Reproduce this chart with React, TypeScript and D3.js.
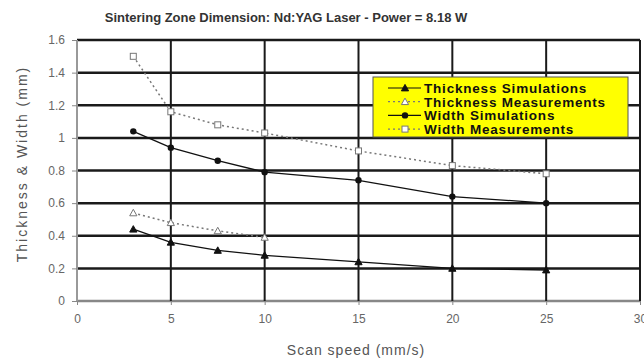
import { useRef, useEffect } from "react";
import * as d3 from "d3";

const speeds = [3, 5, 7.5, 10, 15, 20, 25];
const thicknessSim = [0.44, 0.36, 0.31, 0.28, 0.24, 0.2, 0.19];
const thicknessMeasSpeeds = [3, 5, 7.5, 10];
const thicknessMeas = [0.54, 0.48, 0.43, 0.39];
const widthSim = [1.04, 0.94, 0.86, 0.79, 0.74, 0.64, 0.6];
const widthMeas = [1.5, 1.16, 1.08, 1.03, 0.92, 0.83, 0.78];

const xTicks = [0, 5, 10, 15, 20, 25, 30];
const yTicks = [0, 0.2, 0.4, 0.6, 0.8, 1, 1.2, 1.4, 1.6];

interface Pt {
  x: number;
  y: number;
}

const toPts = (xs: number[], ys: number[]): Pt[] => xs.map((x, i) => ({ x, y: ys[i] }));

const series = [
  { name: "Thickness Simulations", data: toPts(speeds, thicknessSim), dash: null, marker: "triFilled", color: "#111" },
  { name: "Thickness Measurements", data: toPts(thicknessMeasSpeeds, thicknessMeas), dash: "2,3", marker: "triOpen", color: "#777" },
  { name: "Width Simulations", data: toPts(speeds, widthSim), dash: null, marker: "circle", color: "#111" },
  { name: "Width Measurements", data: toPts(speeds, widthMeas), dash: "2,3", marker: "square", color: "#777" },
];

const FONT = "Liberation Sans, Arial, sans-serif";

export default function App() {
  const svgRef = useRef<SVGSVGElement>(null);
  const width = 644;
  const height = 360;
  const margin = { top: 40, right: 4, bottom: 59, left: 77 };
  const innerW = width - margin.left - margin.right;
  const innerH = height - margin.top - margin.bottom;

  useEffect(() => {
    if (!svgRef.current) return;
    const svg = d3.select(svgRef.current);
    svg.selectAll("*").remove();

    const g = svg.append("g").attr("transform", `translate(${margin.left},${margin.top})`);

    const x = d3.scaleLinear().domain([0, 30]).range([0, innerW]);
    const y = d3.scaleLinear().domain([0, 1.6]).range([innerH, 0]);

    // Grid
    g.selectAll(".hgrid")
      .data(yTicks)
      .join("line")
      .attr("x1", 0)
      .attr("x2", innerW)
      .attr("y1", d => y(d))
      .attr("y2", d => y(d))
      .attr("stroke", (d, i) => (i === 0 ? "#888" : "#1a1a1a"))
      .attr("stroke-width", 2.5);

    g.selectAll(".vgrid")
      .data(xTicks)
      .join("line")
      .attr("x1", d => x(d))
      .attr("x2", d => x(d))
      .attr("y1", 0)
      .attr("y2", innerH)
      .attr("stroke", (d, i) => (i === 0 ? "#999" : "#1a1a1a"))
      .attr("stroke-width", 2);

    // Axes tick labels
    const xAxis = g.append("g")
      .attr("transform", `translate(0,${innerH})`)
      .call(d3.axisBottom(x).tickValues(xTicks).tickSize(4).tickFormat(d => `${d}`));
    xAxis.select(".domain").remove();
    xAxis.selectAll(".tick line").attr("stroke", "#888");
    xAxis.selectAll(".tick text")
      .attr("fill", "#666")
      .attr("font-size", "12px")
      .attr("font-family", FONT)
      .attr("y", 10)
      .attr("dy", "1em");

    const yAxis = g.append("g")
      .call(d3.axisLeft(y).tickValues(yTicks).tickSize(5).tickFormat(d => `${+d}`));
    yAxis.select(".domain").remove();
    yAxis.selectAll(".tick line").attr("stroke", "#888");
    yAxis.selectAll(".tick text")
      .attr("fill", "#666")
      .attr("font-size", "12px")
      .attr("font-family", FONT)
      .attr("x", -12);

    const line = d3.line<Pt>().x(d => x(d.x)).y(d => y(d.y));

    const drawMarker = (sel: any, kind: string, cx: number, cy: number, color: string) => {
      if (kind === "circle") {
        sel.append("circle").attr("cx", cx).attr("cy", cy).attr("r", 3.2).attr("fill", "#111");
      } else if (kind === "square") {
        sel.append("rect").attr("x", cx - 3).attr("y", cy - 3).attr("width", 6).attr("height", 6)
          .attr("fill", "#fff").attr("stroke", color).attr("stroke-width", 1);
      } else {
        const s = 3.6;
        const tri = `M${cx},${cy - s} L${cx + s},${cy + s * 0.8} L${cx - s},${cy + s * 0.8} Z`;
        sel.append("path").attr("d", tri)
          .attr("fill", kind === "triFilled" ? "#111" : "#fff")
          .attr("stroke", color).attr("stroke-width", 1);
      }
    };

    series.forEach(s => {
      g.append("path")
        .datum(s.data)
        .attr("fill", "none")
        .attr("stroke", s.color)
        .attr("stroke-width", s.dash ? 1.5 : 1.3)
        .attr("stroke-dasharray", s.dash)
        .attr("d", line);
      const mg = g.append("g");
      s.data.forEach(d => drawMarker(mg, s.marker, x(d.x), y(d.y), s.color));
    });

    // Legend
    const lx = 373 - margin.left;
    const ly = 77 - margin.top;
    const lg = g.append("g").attr("transform", `translate(${lx},${ly})`);
    lg.append("rect").attr("width", 255).attr("height", 60)
      .attr("fill", "#ffff00").attr("stroke", "#555").attr("stroke-width", 1);
    series.forEach((s, i) => {
      const yy = 11 + i * 13.7;
      lg.append("line").attr("x1", 15).attr("x2", 48).attr("y1", yy).attr("y2", yy)
        .attr("stroke", s.color).attr("stroke-width", 1.2).attr("stroke-dasharray", s.dash);
      drawMarker(lg, s.marker, 32, yy, s.color);
      lg.append("text").attr("x", 51).attr("y", yy + 5)
        .attr("font-size", "13.5px")
        .attr("font-weight", "bold")
        .attr("letter-spacing", "0.8px")
        .attr("font-family", FONT)
        .attr("fill", "#111")
        .text(s.name);
    });

    // Title and labels
    svg.append("text")
      .attr("x", 286).attr("y", 22)
      .attr("text-anchor", "middle")
      .attr("font-size", "13px")
      .attr("font-weight", "bold")
      .attr("font-family", FONT)
      .attr("fill", "#333")
      .text("Sintering Zone Dimension: Nd:YAG Laser - Power = 8.18 W");

    svg.append("text")
      .attr("x", 356).attr("y", 355)
      .attr("text-anchor", "middle")
      .attr("font-size", "14px")
      .attr("letter-spacing", "1px")
      .attr("font-family", FONT)
      .attr("fill", "#555")
      .text("Scan speed (mm/s)");

    svg.append("text")
      .attr("transform", "rotate(-90)")
      .attr("x", -164).attr("y", 27)
      .attr("text-anchor", "middle")
      .attr("font-size", "14px")
      .attr("letter-spacing", "2px")
      .attr("font-family", FONT)
      .attr("fill", "#555")
      .text("Thickness & Width (mm)");
  }, []);

  return (
    <svg
      ref={svgRef}
      width={width}
      height={height}
      style={{ position: "absolute", left: 0, top: 0, background: "#fff" }}
    />
  );
}
